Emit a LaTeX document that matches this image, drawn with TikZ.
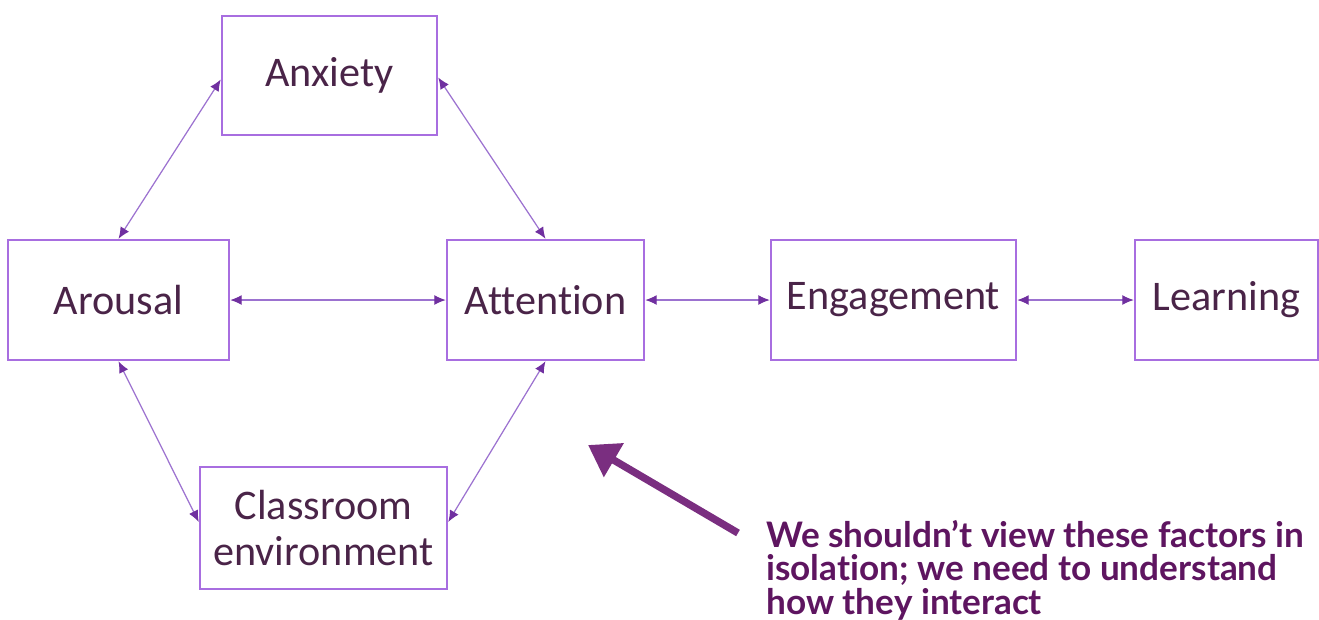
\documentclass[tikz,border=0pt]{standalone}
\usepackage{fontspec}
\setmainfont{Carlito}[Ligatures=NoCommon]
\newfontfamily\notefont{Lato}[Ligatures=NoCommon]
\usetikzlibrary{arrows.meta}

\definecolor{boxline}{HTML}{A86EE0}
\definecolor{linkline}{HTML}{9C72D0}
\definecolor{tipfill}{HTML}{7030A0}
\definecolor{boxtext}{HTML}{4A2448}
\definecolor{notetext}{HTML}{5E1560}
\definecolor{bigarrow}{HTML}{7A2E80}

\tikzset{
  factor/.style={draw=boxline, line width=1.4pt, fill=white, text=boxtext,
    font=\fontsize{24}{26}\selectfont, align=center, inner sep=0pt},
  link/.style={draw=linkline, line width=0.7pt,
    {Latex[length=2.3mm,width=2mm,color=tipfill]}-{Latex[length=2.3mm,width=2mm,color=tipfill]}},
}

\begin{document}
\begin{tikzpicture}[x=0.02cm, y=-0.02cm]
  \useasboundingbox (0,0) rectangle (1319,619);

  % factor boxes
  \node[factor, minimum width=215*0.02cm, minimum height=119*0.02cm] (anx) at (329.5,75.5) {Anxiety};
  \node[factor, minimum width=221*0.02cm, minimum height=120*0.02cm] (aro) at (118.5,300) {Arousal};
  \node[factor, minimum width=197*0.02cm, minimum height=120*0.02cm] (att) at (545.5,300) {Attention};
  \node[factor, minimum width=245*0.02cm, minimum height=120*0.02cm] (eng) at (893.5,300) {Engagement};
  \node[factor, minimum width=183*0.02cm, minimum height=120*0.02cm] (lrn) at (1226.5,300) {Learning};
  \node[factor, minimum width=247*0.02cm, minimum height=122*0.02cm] (cls) at (323.5,528) {Classroom\\environment};

  % two-way links
  \draw[link] ([yshift=-4*0.02cm]anx.west) -- (aro.north);
  \draw[link] ([yshift=-2*0.02cm]anx.east) -- (att.north);
  \draw[link] (aro.east) -- (att.west);
  \draw[link] (att.east) -- (eng.west);
  \draw[link] (eng.east) -- (lrn.west);
  \draw[link] (aro.south) -- ([yshift=6*0.02cm]cls.west);
  \draw[link] (att.south) -- ([yshift=6*0.02cm]cls.east);

  % pointer to the cycle
  \coordinate (tail) at (738,533);
  \coordinate (head) at (588,445);
  \draw[bigarrow, line width=4.2pt, -{Triangle[length=6mm,width=7.5mm]}] (tail) -- (head);

  \node[anchor=north west, text=notetext, align=left, inner sep=0pt,
        font=\notefont\bfseries\fontsize{20}{19}\selectfont] (note) at (766,520)
    {We shouldn’t view these factors in\\isolation; we need to understand\\how they interact};
\end{tikzpicture}
\end{document}
